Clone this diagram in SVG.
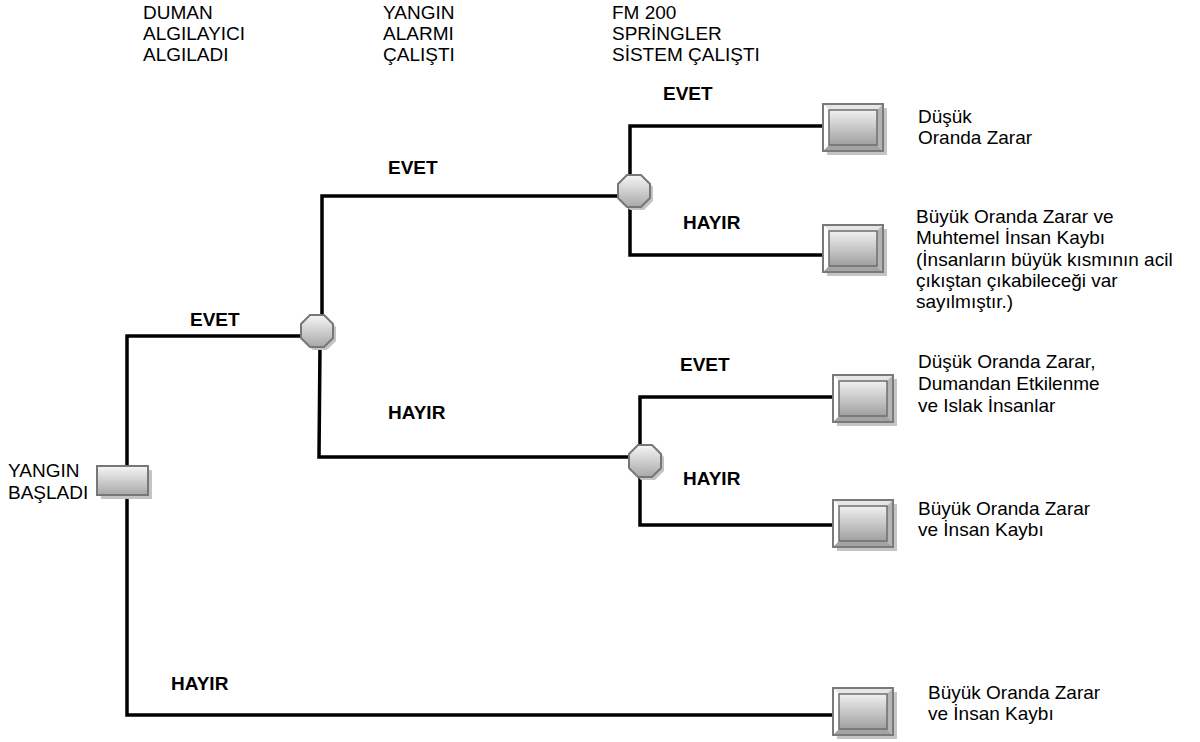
<svg xmlns="http://www.w3.org/2000/svg" width="1200" height="742" viewBox="0 0 1200 742">
<defs>
<linearGradient id="g" x1="0" y1="0" x2="0" y2="1">
<stop offset="0" stop-color="#f6f6f6"/>
<stop offset="1" stop-color="#a8a8a8"/>
</linearGradient>
<linearGradient id="g2" x1="0" y1="0" x2="0" y2="1">
<stop offset="0" stop-color="#f0f0f0"/>
<stop offset="1" stop-color="#a0a0a0"/>
</linearGradient>
<g id="oct">
<polygon points="-7,-16 7,-16 16,-7 16,7 7,16 -7,16 -16,7 -16,-7" transform="translate(3,3)" fill="#c4c4c4"/>
<polygon points="-7,-16 7,-16 16,-7 16,7 7,16 -7,16 -16,7 -16,-7" fill="url(#g)" stroke="#777" stroke-width="2"/>
</g>
<g id="box">
<rect x="4" y="4" width="60" height="47" fill="#c4c4c4"/>
<rect x="0" y="0" width="60" height="47" fill="#fff"/>
<polygon points="0,0 60,0 54,6 6,6" fill="#e6e6e6"/>
<polygon points="0,0 6,6 6,41 0,47" fill="#ffffff"/>
<polygon points="60,0 60,47 54,41 54,6" fill="#b4b4b4"/>
<polygon points="0,47 60,47 54,41 6,41" fill="#a4a4a4"/>
<rect x="6" y="6" width="48" height="35" fill="url(#g2)" stroke="#6e6e6e" stroke-width="1.5"/>
<rect x="0" y="0" width="60" height="47" fill="none" stroke="#7a7a7a" stroke-width="2"/>
</g>
</defs>
<style>
.t{font-family:"Liberation Sans",Arial,sans-serif;font-size:19px;fill:#000}
.b{font-family:"Liberation Sans",Arial,sans-serif;font-size:19px;font-weight:bold;fill:#000}
.c{fill:none;stroke:#000;stroke-width:3.5;stroke-linejoin:miter}
</style>
<rect width="1200" height="742" fill="#fff"/>
<g id="headers">
<text class="t" x="143" y="19">DUMAN</text>
<text class="t" x="143" y="40">ALGILAYICI</text>
<text class="t" x="143" y="61">ALGILADI</text>
<text class="t" x="383" y="19">YANGIN</text>
<text class="t" x="383" y="40">ALARMI</text>
<text class="t" x="383" y="61">ÇALIŞTI</text>
<text class="t" x="612" y="19">FM 200</text>
<text class="t" x="612" y="40">SPRİNGLER</text>
<text class="t" x="612" y="61">SİSTEM ÇALIŞTI</text>
</g>
<g id="connectors">
<polyline class="c" points="301,336 127,336 127,715 833,715"/>
<polyline class="c" points="322,316 322,196 619,196"/>
<polyline class="c" points="823,126 630,126 630,255 823,255"/>
<polyline class="c" points="320,346 319,457 630,457"/>
<polyline class="c" points="833,397 640,397 640,525 833,525"/>
</g>
<g id="labels">
<text class="b" x="190" y="326">EVET</text>
<text class="b" x="388" y="174">EVET</text>
<text class="b" x="663" y="100">EVET</text>
<text class="b" x="683" y="229">HAYIR</text>
<text class="b" x="388" y="419">HAYIR</text>
<text class="b" x="680" y="371">EVET</text>
<text class="b" x="683" y="485">HAYIR</text>
<text class="b" x="171" y="690">HAYIR</text>
</g>
<g id="start">
<rect x="101" y="470" width="51" height="29" fill="#c4c4c4"/>
<rect x="97" y="466" width="51" height="29" fill="url(#g)" stroke="#777" stroke-width="2"/>
<text class="t" x="8" y="477">YANGIN</text>
<text class="t" x="8" y="499">BAŞLADI</text>
</g>
<g id="n1"><use href="#oct" x="317" y="331"/></g>
<g id="n2"><use href="#oct" x="634" y="191"/></g>
<g id="n3"><use href="#oct" x="645" y="461"/></g>
<g id="t1"><use href="#box" x="823" y="104"/>
<text class="t" x="918" y="123">Düşük</text>
<text class="t" x="918" y="144">Oranda Zarar</text></g>
<g id="t2"><use href="#box" x="823" y="225"/>
<text class="t" x="916" y="223">Büyük Oranda Zarar ve</text>
<text class="t" x="916" y="244">Muhtemel İnsan Kaybı</text>
<text class="t" x="916" y="266">(İnsanların büyük kısmının acil</text>
<text class="t" x="916" y="287">çıkıştan çıkabileceği var</text>
<text class="t" x="916" y="308">sayılmıştır.)</text></g>
<g id="t3"><use href="#box" x="833" y="375"/>
<text class="t" x="918" y="368">Düşük Oranda Zarar,</text>
<text class="t" x="918" y="390">Dumandan Etkilenme</text>
<text class="t" x="918" y="412">ve Islak İnsanlar</text></g>
<g id="t4"><use href="#box" x="833" y="500"/>
<text class="t" x="918" y="515">Büyük Oranda Zarar</text>
<text class="t" x="918" y="536">ve İnsan Kaybı</text></g>
<g id="t5"><use href="#box" x="833" y="688"/>
<text class="t" x="928" y="699">Büyük Oranda Zarar</text>
<text class="t" x="928" y="720">ve İnsan Kaybı</text></g>
</svg>
